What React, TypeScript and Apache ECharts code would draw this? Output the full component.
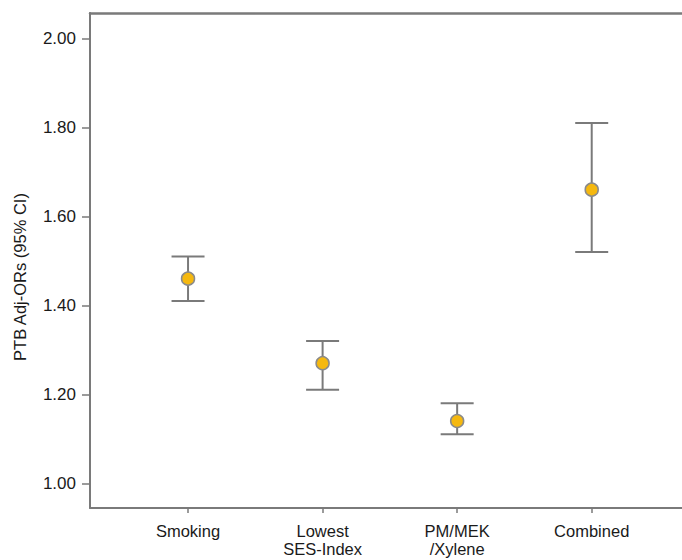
import React, { useEffect, useRef } from "react";
import * as echarts from "echarts";

const categories = ["Smoking", "Lowest\nSES-Index", "PM/MEK\n/Xylene", "Combined"];
const estimates = [1.46, 1.27, 1.14, 1.66];
const lowerCI = [1.41, 1.21, 1.11, 1.52];
const upperCI = [1.51, 1.32, 1.18, 1.81];
const yTicks = [1.0, 1.2, 1.4, 1.6, 1.8, 2.0];
const yTitle = "PTB Adj-ORs (95% CI)";

const FONT = "Liberation Sans, Arial, Helvetica, sans-serif";
const GRAY = "#7a7a7a";

export default function App() {
  const ref = useRef<HTMLDivElement>(null);
  useEffect(() => {
    if (!ref.current) return;
    const chart = echarts.init(ref.current, null, { renderer: "svg" });
    const data = categories.map((_, i) => [i + 1, estimates[i], lowerCI[i], upperCI[i]]);
    const xPos = categories.map((_, i) => i + 1);
    chart.setOption({
      animation: false,
      backgroundColor: "#fff",
      grid: { left: 90, top: 13, right: 0, bottom: 52, containLabel: false, outerBoundsMode: "none" },
      graphic: [
        {
          type: "text",
          x: 20,
          y: 277,
          rotation: Math.PI / 2,
          style: {
            text: yTitle,
            fontFamily: FONT,
            fontSize: 16.5,
            fill: "#1a1a1a",
            align: "center",
            verticalAlign: "middle",
          },
        },
      ],
      xAxis: [
        {
          type: "value",
          min: 0.2714,
          max: 4.671,
          position: "bottom",
          splitLine: { show: false },
          axisLine: { show: true, lineStyle: { color: GRAY, width: 2 } },
          axisTick: { show: true, length: 5, customValues: xPos, lineStyle: { color: GRAY, width: 1.5 } },
          axisLabel: {
            customValues: xPos,
            formatter: (v: number) => categories[Math.round(v) - 1] ?? "",
            fontFamily: FONT,
            fontSize: 16.5,
            color: "#1a1a1a",
            margin: 14,
            lineHeight: 18,
          },
        },
        {
          type: "value",
          min: 0.2714,
          max: 4.671,
          position: "top",
          splitLine: { show: false },
          axisLine: { show: true, lineStyle: { color: GRAY, width: 2.5 } },
          axisTick: { show: false },
          axisLabel: { show: false },
        },
      ],
      yAxis: {
        type: "value",
        min: 0.9445,
        max: 2.057,
        splitLine: { show: false },
        axisLine: { show: true, lineStyle: { color: GRAY, width: 2 } },
        axisTick: { show: true, length: 8, customValues: yTicks, lineStyle: { color: GRAY, width: 1.5 } },
        axisLabel: {
          customValues: yTicks,
          formatter: (v: number) => v.toFixed(2),
          fontFamily: FONT,
          fontSize: 17,
          color: "#1a1a1a",
          margin: 14,
        },
      },
      series: [
        {
          type: "custom",
          data,
          encode: { x: 0, y: [1, 2, 3] },
          renderItem: (params: any, api: any) => {
            const x = api.value(0);
            const pt = api.coord([x, api.value(1)]);
            const lo = api.coord([x, api.value(2)]);
            const hi = api.coord([x, api.value(3)]);
            const half = 16.5;
            const ls = { stroke: GRAY, lineWidth: 2 };
            return {
              type: "group",
              children: [
                { type: "line", shape: { x1: pt[0], y1: hi[1], x2: pt[0], y2: lo[1] }, style: ls },
                { type: "line", shape: { x1: pt[0] - half, y1: hi[1], x2: pt[0] + half, y2: hi[1] }, style: ls },
                { type: "line", shape: { x1: pt[0] - half, y1: lo[1], x2: pt[0] + half, y2: lo[1] }, style: ls },
                {
                  type: "circle",
                  shape: { cx: pt[0], cy: pt[1], r: 6.5 },
                  style: { fill: "#f5b80f", stroke: "#8a8a8a", lineWidth: 1.5 },
                },
              ],
            };
          },
        },
      ],
    });
    return () => chart.dispose();
  }, []);
  return <div ref={ref} style={{ width: 682, height: 560, position: "absolute", left: 0, top: 0 }} />;
}
